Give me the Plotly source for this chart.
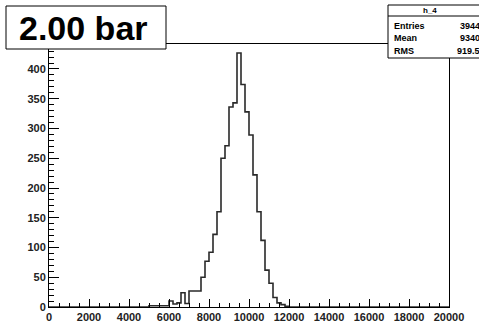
import plotly.graph_objects as go

# ---- data ----
bin_width = 200
bin_lows = [5000, 5200, 5400, 5600, 5800,
            6000, 6200, 6400, 6600, 6800,
            7000, 7200, 7400, 7600, 7800,
            8000, 8200, 8400, 8600, 8800,
            9000, 9200, 9400, 9600, 9800,
            10000, 10200, 10400, 10600, 10800,
            11000, 11200, 11400, 11600, 11800]
counts = [2, 2, 2, 2, 2,
          10, 5, 7, 24, 6,
          27, 27, 27, 50, 77,
          92, 122, 160, 250, 271,
          336, 343, 427, 374, 328,
          289, 222, 160, 112, 62,
          40, 16, 7, 4, 1]
x_ticks = [0, 2000, 4000, 6000, 8000, 10000, 12000, 14000, 16000, 18000, 20000]
y_ticks = [0, 50, 100, 150, 200, 250, 300, 350, 400]
title_text = "2.00 bar"
stats_name = "h_4"
stats_labels = ["Entries", "Mean", "RMS"]
stats_values = ["3944", "9340", "919.5"]

x_range = [0, 20000]
y_range = [0, 442]

# ---- geometry (pixels) ----
W, H = 479, 324
L, R, T, B = 49, 30, 44, 17
PW, PH = W - L - R, H - T - B


def px(x):
    return (x - L) / PW


def py(y):
    return (H - B - y) / PH


# step outline
sx = [x_range[0]] + bin_lows + [bin_lows[-1] + bin_width, x_range[1]]
sy = [0] + counts + [0, 0]

fig = go.Figure()
fig.add_trace(go.Scatter(x=sx, y=sy, mode="lines", line_shape="hv",
                         line=dict(color="#2a2a2a", width=1.6),
                         hoverinfo="skip", showlegend=False))

font_fam = "Liberation Sans, Arial, Helvetica, sans-serif"
tickfont = dict(family=font_fam, size=11, color="#222", weight="bold")

fig.update_xaxes(range=x_range, tickvals=x_ticks, ticktext=[str(v) for v in x_ticks],
                 ticks="inside", ticklen=8, tickwidth=1, tickcolor="black",
                 minor=dict(ticks="inside", dtick=500, ticklen=4, tickcolor="black"),
                 showline=True, linecolor="black", linewidth=1, mirror=True,
                 showgrid=False, zeroline=False, tickfont=tickfont, automargin=False)
fig.update_yaxes(range=y_range, tickvals=y_ticks, ticktext=[str(v) for v in y_ticks],
                 ticks="inside", ticklen=10, tickwidth=1, tickcolor="black",
                 minor=dict(ticks="inside", dtick=10, ticklen=5, tickcolor="black"),
                 showline=True, linecolor="black", linewidth=1, mirror=True,
                 showgrid=False, zeroline=False, tickfont=tickfont, automargin=False)

shapes = [
    # title box
    dict(type="rect", xref="paper", yref="paper", x0=px(6), x1=px(166), y0=py(49), y1=py(6),
         line=dict(color="black", width=1), fillcolor="white", layer="above"),
    # stats box
    dict(type="rect", xref="paper", yref="paper", x0=px(388), x1=px(495), y0=py(58), y1=py(5),
         line=dict(color="black", width=1), fillcolor="white", layer="above"),
    dict(type="line", xref="paper", yref="paper", x0=px(388), x1=px(495), y0=py(16), y1=py(16),
         line=dict(color="black", width=1), layer="above"),
]

annotations = [
    dict(text="<b>%s</b>" % title_text, xref="paper", yref="paper", x=px(83), y=py(28),
         xanchor="center", yanchor="middle", showarrow=False,
         font=dict(family=font_fam, size=34, color="black")),
    dict(text="<b>%s</b>" % stats_name, xref="paper", yref="paper", x=px(430), y=py(10.5),
         xanchor="center", yanchor="middle", showarrow=False,
         font=dict(family=font_fam, size=8, color="black")),
]
row_y = [26, 38, 51]
for lab, val, ry in zip(stats_labels, stats_values, row_y):
    annotations.append(dict(text="<b>%s</b>" % lab, xref="paper", yref="paper", x=px(392), y=py(ry),
                            xanchor="left", yanchor="middle", showarrow=False,
                            font=dict(family=font_fam, size=9, color="black")))
    annotations.append(dict(text="<b>%s</b>" % val, xref="paper", yref="paper", x=px(482), y=py(ry),
                            xanchor="right", yanchor="middle", showarrow=False,
                            font=dict(family=font_fam, size=9, color="black")))

fig.update_layout(width=W, height=H, margin=dict(l=L, r=R, t=T, b=B, autoexpand=False),
                  paper_bgcolor="white", plot_bgcolor="white",
                  shapes=shapes, annotations=annotations, showlegend=False)

fig.write_html("out.html", config={"displayModeBar": False, "staticPlot": True},
               post_script="document.body.style.margin='0';document.body.style.padding='0';")
